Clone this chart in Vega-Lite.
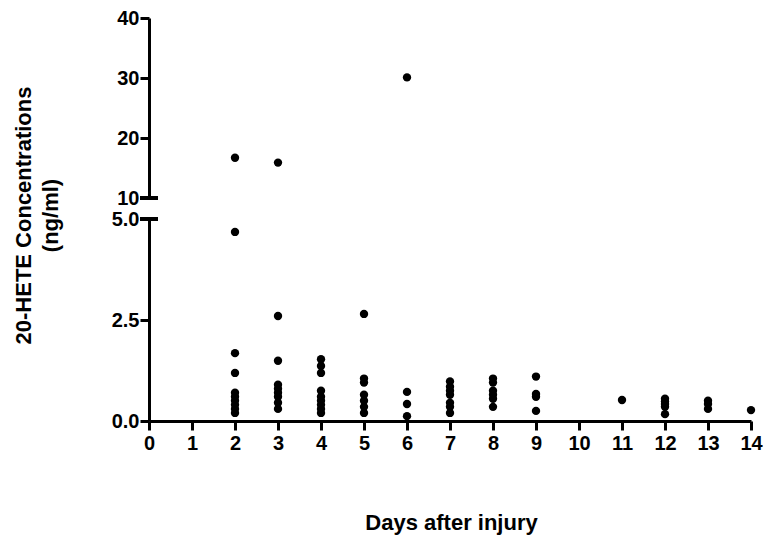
{
  "$schema": "https://vega.github.io/schema/vega-lite/v6.json",
  "background": "white",
  "padding": {"left": 12, "top": 8, "right": 2, "bottom": 5},
  "spacing": 21,
  "bounds": "flush",
  "config": {
    "view": {"stroke": null},
    "font": "Liberation Sans",
    "axis": {
      "domainColor": "black",
      "domainWidth": 3,
      "tickColor": "black",
      "tickWidth": 3,
      "tickSize": 9,
      "labelFont": "Liberation Sans",
      "labelFontWeight": "bold",
      "labelFontSize": 20,
      "labelColor": "black",
      "labelFlush": false,
      "titleFont": "Liberation Sans",
      "titleFontWeight": "bold",
      "titleFontSize": 22,
      "titleColor": "black",
      "grid": false
    }
  },
  "datasets": {
    "pts": [
      {"day": 2, "conc": 16.7}, {"day": 2, "conc": 4.68}, {"day": 2, "conc": 1.68}, {"day": 2, "conc": 1.19},
      {"day": 2, "conc": 0.7}, {"day": 2, "conc": 0.6}, {"day": 2, "conc": 0.5}, {"day": 2, "conc": 0.4}, {"day": 2, "conc": 0.3}, {"day": 2, "conc": 0.2},
      {"day": 3, "conc": 15.9}, {"day": 3, "conc": 2.6}, {"day": 3, "conc": 1.49},
      {"day": 3, "conc": 0.9}, {"day": 3, "conc": 0.8}, {"day": 3, "conc": 0.7}, {"day": 3, "conc": 0.6}, {"day": 3, "conc": 0.45}, {"day": 3, "conc": 0.3},
      {"day": 4, "conc": 1.53}, {"day": 4, "conc": 1.36}, {"day": 4, "conc": 1.19}, {"day": 4, "conc": 0.75}, {"day": 4, "conc": 0.6}, {"day": 4, "conc": 0.5}, {"day": 4, "conc": 0.4}, {"day": 4, "conc": 0.3}, {"day": 4, "conc": 0.2},
      {"day": 5, "conc": 2.65}, {"day": 5, "conc": 1.05}, {"day": 5, "conc": 0.95}, {"day": 5, "conc": 0.65}, {"day": 5, "conc": 0.5}, {"day": 5, "conc": 0.35}, {"day": 5, "conc": 0.2},
      {"day": 6, "conc": 30.1}, {"day": 6, "conc": 0.72}, {"day": 6, "conc": 0.42}, {"day": 6, "conc": 0.12},
      {"day": 7, "conc": 0.98}, {"day": 7, "conc": 0.85}, {"day": 7, "conc": 0.75}, {"day": 7, "conc": 0.65}, {"day": 7, "conc": 0.45}, {"day": 7, "conc": 0.35}, {"day": 7, "conc": 0.2},
      {"day": 8, "conc": 1.05}, {"day": 8, "conc": 0.95}, {"day": 8, "conc": 0.75}, {"day": 8, "conc": 0.65}, {"day": 8, "conc": 0.55}, {"day": 8, "conc": 0.35},
      {"day": 9, "conc": 1.1}, {"day": 9, "conc": 0.67}, {"day": 9, "conc": 0.6}, {"day": 9, "conc": 0.25},
      {"day": 11, "conc": 0.52},
      {"day": 12, "conc": 0.55}, {"day": 12, "conc": 0.48}, {"day": 12, "conc": 0.42}, {"day": 12, "conc": 0.35}, {"day": 12, "conc": 0.17},
      {"day": 13, "conc": 0.5}, {"day": 13, "conc": 0.42}, {"day": 13, "conc": 0.3},
      {"day": 14, "conc": 0.27}
    ]
  },
  "vconcat": [
    {
      "width": 602,
      "height": 180,
      "data": {"name": "pts"},
      "layer": [
        {
          "transform": [{"filter": "datum.conc >= 10"}],
          "mark": {"type": "circle", "size": 70, "color": "black", "opacity": 1},
          "encoding": {
            "x": {"field": "day", "type": "quantitative", "scale": {"domain": [0, 14], "nice": false}, "axis": null},
            "y": {"field": "conc", "type": "quantitative", "scale": {"domain": [10, 40], "nice": false, "zero": false},
                  "axis": {"values": [10, 20, 30, 40], "title": null, "labelPadding": 1}}
          }
        },
        {
          "mark": {"type": "tick", "orient": "horizontal", "size": 18, "thickness": 3, "color": "black", "clip": false},
          "encoding": {"x": {"datum": 0, "type": "quantitative", "axis": null}, "y": {"datum": 10, "type": "quantitative", "axis": {"values": [10, 20, 30, 40], "title": null, "labelPadding": 1}}}
        },
        {
          "mark": {"type": "tick", "orient": "horizontal", "size": 18, "thickness": 3, "color": "black", "clip": false},
          "encoding": {"x": {"datum": 0, "type": "quantitative", "axis": null}, "y": {"datum": 6.5, "type": "quantitative", "axis": {"values": [10, 20, 30, 40], "title": null, "labelPadding": 1}}}
        }
      ]
    },
    {
      "width": 602,
      "height": 202,
      "data": {"name": "pts"},
      "transform": [{"filter": "datum.conc <= 5"}],
      "mark": {"type": "circle", "size": 70, "color": "black", "opacity": 1},
      "encoding": {
        "x": {"field": "day", "type": "quantitative", "scale": {"domain": [0, 14], "nice": false},
              "axis": {"values": [0,1,2,3,4,5,6,7,8,9,10,11,12,13,14], "labelOverlap": false, "title": "Days after injury",
                       "labelPadding": 3, "titleX": 302, "titleY": 108, "titleBaseline": "alphabetic"}},
        "y": {"field": "conc", "type": "quantitative", "scale": {"domain": [0, 5], "nice": false},
              "axis": {"values": [0, 2.5, 5], "format": ".1f", "labelPadding": 1,
                       "title": ["20-HETE Concentrations", "(ng/ml)"],
                       "titleX": -126, "titleY": -4, "titleAngle": -90, "titleAlign": "center", "titleBaseline": "middle", "titleLineHeight": 27}}
      }
    }
  ]
}
